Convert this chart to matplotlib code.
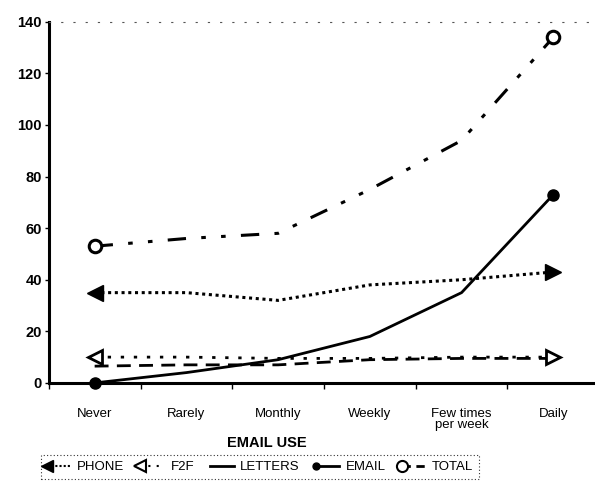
import numpy as np
import matplotlib
matplotlib.use('Agg')
import matplotlib.pyplot as plt
from matplotlib.lines import Line2D

plt.rcParams['font.family'] = ['Liberation Sans', 'DejaVu Sans']

categories = ['Never', 'Rarely', 'Monthly', 'Weekly', 'Few times\nper week', 'Daily']
phone = [35, 35, 32, 38, 40, 43]
f2f = [10, 10, 9.5, 9.5, 10, 10]
letters = [6.5, 7, 7, 9, 9.5, 9.5]
email = [0, 4, 9, 18, 35, 73]
total = [53, 56, 58, 75, 94, 134]

x = np.arange(len(categories))

fig = plt.figure(figsize=(5.95, 4.96), dpi=100)
ax = fig.add_axes([0.082, 0.228, 0.925, 0.728])

# lines
ax.plot(x, total, color='black', lw=2.2, dashes=(6, 5, 1.5, 5, 1.5, 5))
ax.plot(x, phone, color='black', lw=2.2, dashes=(1, 1.2))
ax.plot(x, f2f, color='black', lw=2.0, dashes=(1.2, 3.5))
ax.plot(x, letters, color='black', lw=2.0, dashes=(5, 3))
ax.plot(x, email, color='black', lw=2.0)

# end markers
ax.plot(x[0], phone[0], marker='<', ms=12, color='black', clip_on=False)
ax.plot(x[-1], phone[-1], marker='>', ms=12, color='black', clip_on=False)
ax.plot(x[0], f2f[0], marker='<', ms=10, mfc='white', mec='black', mew=2, clip_on=False)
ax.plot(x[-1], f2f[-1], marker='>', ms=10, mfc='white', mec='black', mew=2, clip_on=False)
ax.plot([x[0], x[-1]], [email[0], email[-1]], ls='none', marker='o', ms=8, color='black', clip_on=False, zorder=5)
ax.plot([x[0], x[-1]], [total[0], total[-1]], ls='none', marker='o', ms=9, mfc='white', mec='black', mew=2.2, clip_on=False, zorder=5)

ax.set_xlim(-0.5, 5.5)
ax.set_ylim(0, 140)

ax.spines['right'].set_visible(False)
ax.spines['top'].set_linestyle((0, (1, 10)))
ax.spines['top'].set_linewidth(0.8)
ax.spines['top'].set_color('#555555')
ax.spines['left'].set_linewidth(2.2)
ax.spines['bottom'].set_linewidth(2.2)

ax.set_yticks(range(0, 141, 20))
ax.tick_params(axis='y', length=3, width=1, labelsize=10.5, pad=2)
for lab in ax.get_yticklabels():
    lab.set_fontweight('bold')

ax.set_xticks(x)
ax.set_xticklabels(categories, fontsize=9.5, linespacing=0.95)
ax.set_xticks(np.arange(-0.5, 5.5, 1), minor=True)
ax.tick_params(axis='x', which='major', length=0, pad=18)
ax.tick_params(axis='x', which='minor', length=4, width=1)

ax.set_xlabel('EMAIL USE', fontsize=10.5, fontweight='bold')
ax.xaxis.set_label_coords(0.397, -0.148)

handles = [
    Line2D([], [], color='black', lw=1.5, dashes=(1, 1), marker='<', ms=8),
    Line2D([], [], color='black', lw=1.5, dashes=(1, 3), marker='<', ms=8, mfc='white', mew=1.5),
    Line2D([], [], color='black', lw=2),
    Line2D([], [], color='black', lw=2, marker='o', ms=5),
    Line2D([], [], color='black', lw=2, dashes=(3, 2), marker='o', ms=8, mfc='white', mew=1.5),
]
labels = ['PHONE', 'F2F', 'LETTERS', 'EMAIL', 'TOTAL']
leg = fig.legend(handles, labels, loc='center', bbox_to_anchor=(0.437, 0.058),
                 ncol=5, fontsize=9.5, handlelength=1.8, handletextpad=0.5,
                 columnspacing=1.2, numpoints=1, frameon=True, fancybox=False,
                 borderpad=0.45)
# marker at the left end of each legend sample
for h in leg.legend_handles:
    h.set_markevery([0])
frame = leg.get_frame()
frame.set_edgecolor('black')
frame.set_linestyle((0, (1, 2)))
frame.set_linewidth(0.8)

fig.savefig('out.png', dpi=100)
